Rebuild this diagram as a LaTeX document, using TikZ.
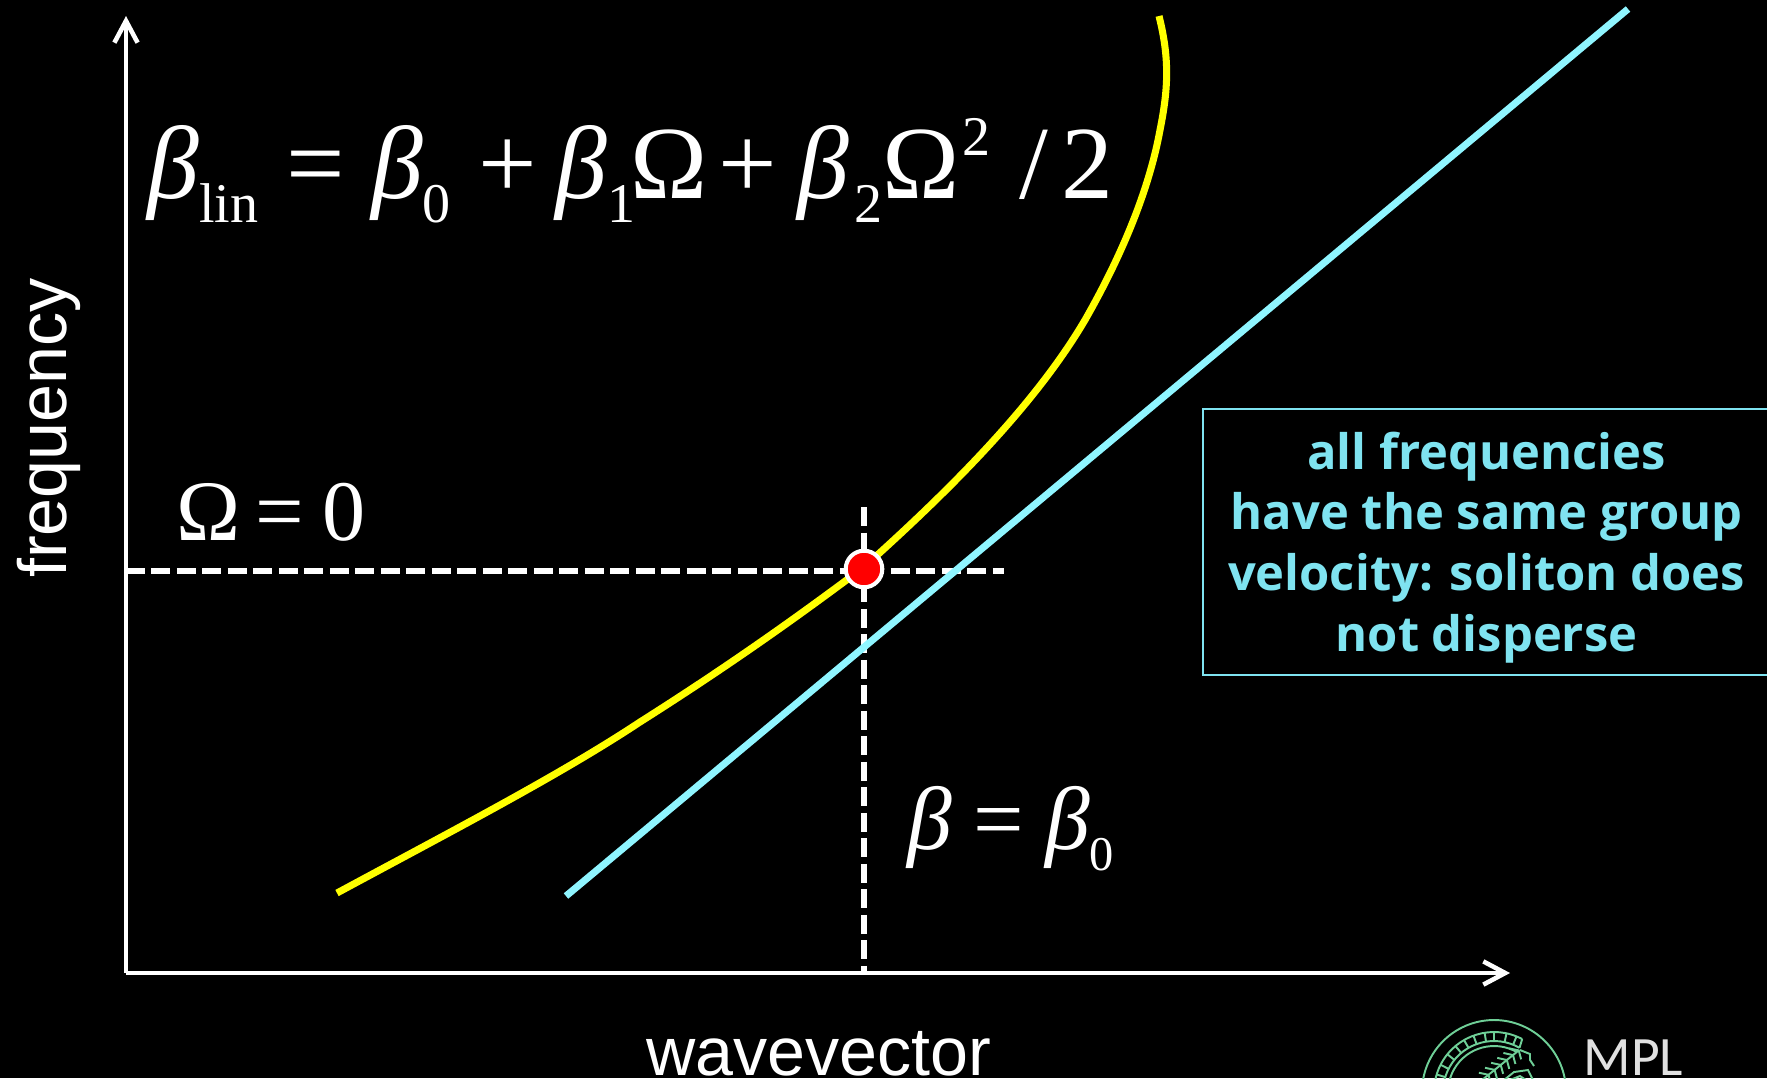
\documentclass[tikz,border=0pt]{standalone}
\usepackage{fontspec}
\usepackage{graphicx}
\setmainfont{Liberation Serif}
\newfontfamily\labelfont{Liberation Sans}
\newfontfamily\notefont{Open Sans}
\newfontfamily\logofont{Carlito}
\usetikzlibrary{arrows.meta, positioning, calc}
\definecolor{curveyellow}{HTML}{FFFF00}
\definecolor{lightcyan}{HTML}{8FF5FF}
\definecolor{notecyan}{HTML}{7FE3F0}
\definecolor{logogreen}{HTML}{6FCF97}
\newcommand{\bet}{{\itshape β}}
\newcommand{\lowered}[1]{\raisebox{-0.24em}{\scalebox{0.54}{#1}}}
\newcommand{\raised}[1]{\raisebox{0.41em}{\scalebox{0.54}{#1}}}

\begin{document}
\begin{tikzpicture}[
            x=0.01cm, y=-0.01cm,
            >={Straight Barb[length=6.2pt,width=6.6pt]},
            axis/.style    ={->, white, line width=1.3pt},
            guide/.style   ={white, line width=1.7pt, dash pattern=on 5.4pt off 1.85pt},
            curve/.style   ={line width=2pt},
            eqn/.style     ={font=\fontsize{29.5}{30}\selectfont, text=white, inner sep=0pt},
            eqnzero/.style ={font=\fontsize{24.5}{26}\selectfont, text=white, inner sep=0pt},
            eqnbeta/.style ={font=\fontsize{25.5}{27}\selectfont, text=white, inner sep=0pt},
            axlbl/.style   ={font=\labelfont\fontsize{19.4}{20}\selectfont, text=white, inner sep=0pt},
            notebox/.style ={draw=notecyan, line width=0.5pt, text=notecyan, align=center,
                             font=\notefont\bfseries\fontsize{13.9}{17.3}\selectfont, inner sep=0pt},
            logoline/.style={draw=logogreen, line width=0.55pt}
        ]

        \useasboundingbox (0,0) rectangle (1767,1078);
        \fill[black] (0,0) rectangle (1767,1078);

        % axes
        \coordinate (origin) at (126,973);
        \coordinate (ytip) at (126,16);
        \coordinate (xtip) at (1510,973);
        \draw[axis] (origin) -- (ytip);
        \draw[axis] (origin) -- (xtip);

        % guides through the working point
        \coordinate (hstart) at (126,571);
        \coordinate (hend) at (1004,571);
        \coordinate (vstart) at (864,507);
        \coordinate (vend) at (864,973);
        \draw[guide] (hstart) -- (hend);
        \draw[guide] (vstart) -- (vend);

        % dispersion curve and its tangent
        \draw[curve, curveyellow] (337,893) .. controls (450,832) and (560,775) .. (640,722)
              .. controls (730,665) and (800,615) .. (864,567)
              .. controls (950,490) and (1035,405) .. (1085,320)
              .. controls (1125,250) and (1150,185) .. (1160,130)
              .. controls (1168,90) and (1170,60) .. (1159,16);
        \coordinate (tanlow) at (566,896);
        \coordinate (tanhigh) at (1628,9);
        \draw[curve, lightcyan] (tanlow) -- (tanhigh);

        \node[circle, fill=red, draw=white, line width=1.15pt, minimum size=10.4pt,
              inner sep=0pt] (point) at (864,569) {};

        \node[eqn, anchor=base west] (dispersion) at (147,198)
              {\bet\lowered{lin}\hspace{8pt}=\hspace{7.4pt}\bet\lowered{0}\hspace{8pt}+\hspace{5.1pt}\bet\lowered{1}\hspace{-1.3pt}Ω\hspace{3.2pt}+\hspace{5.8pt}\bet\hspace{1.3pt}\lowered{2}Ω\hspace{1pt}\raised{2}\hspace{8.3pt}/\hspace{3.8pt}2};
        \node[eqnzero, anchor=base west] (omegazero) at (176,540) {Ω\hspace{4.3pt}=\hspace{5.1pt}0};
        \node[eqnbeta, anchor=base west] (betazero) at (907,849) {\bet\hspace{6pt}=\hspace{6pt}\bet\lowered{0}};

        \node[axlbl, rotate=90, anchor=base] (freq) at (66,428) {frequency};
        \node[axlbl, anchor=base] (wave) at (819,1075) {wavevector};

        \node[notebox, minimum width=5.67cm, minimum height=2.66cm, anchor=north west] (note) at (1202,408)
              {\rule{0pt}{13.8pt}all frequencies\\have the same group\\velocity: soliton does\\not disperse};

        % logo at the foot of the picture
        \coordinate (logo) at (1494,1092);
        \draw[logoline] (logo) circle (72);
        \draw[logoline] ($(logo)+(-62:60)$) arc[start angle=-62, end angle=-190, radius=60];
        \draw[logoline] ($(logo)+(-60:51)$) arc[start angle=-60, end angle=-190, radius=51];
        \draw[logoline] ($(logo)+(-60:46)$) arc[start angle=-60, end angle=-190, radius=46];
        \draw[logoline] ($(logo)+(-62:60)$) -- ($(logo)+(-60:51)$);
        \foreach \a in {68,78,90,99,110,120,130,141,153,163,175}{
            \draw[logoline] ($(logo)+(-\a:60)$) -- ($(logo)+(-\a:51)$);
        }
        % wheat ear and the leaf beside it
        \coordinate (earlow) at (1482,1080);
        \coordinate (earhigh) at (1518,1051);
        \draw[logoline] (earlow) -- (earhigh);
        \foreach \t in {0.08,0.25,0.42,0.59,0.76,0.92}{
            \draw[logoline] ($(earlow)!\t!(earhigh)+(-6,-5)$) -- ($(earlow)!\t+0.1!(earhigh)$) -- ($(earlow)!\t!(earhigh)+(6,6)$);
        }
        \draw[logoline] (1520,1050) -- (1530,1054) -- (1530,1060) -- (1534,1066);
        \draw[logoline] (1504,1080) -- (1514,1072) -- (1528,1070) -- (1533,1080);
        \draw[logoline] (1510,1080) -- (1520,1076) -- (1526,1080);

        \node[font=\logofont\fontsize{15.8}{16}\selectfont, text=white!88!black, anchor=base west,
              inner sep=0pt] (mpl) at (1583,1075) {MPL};
    \end{tikzpicture}
\end{document}
